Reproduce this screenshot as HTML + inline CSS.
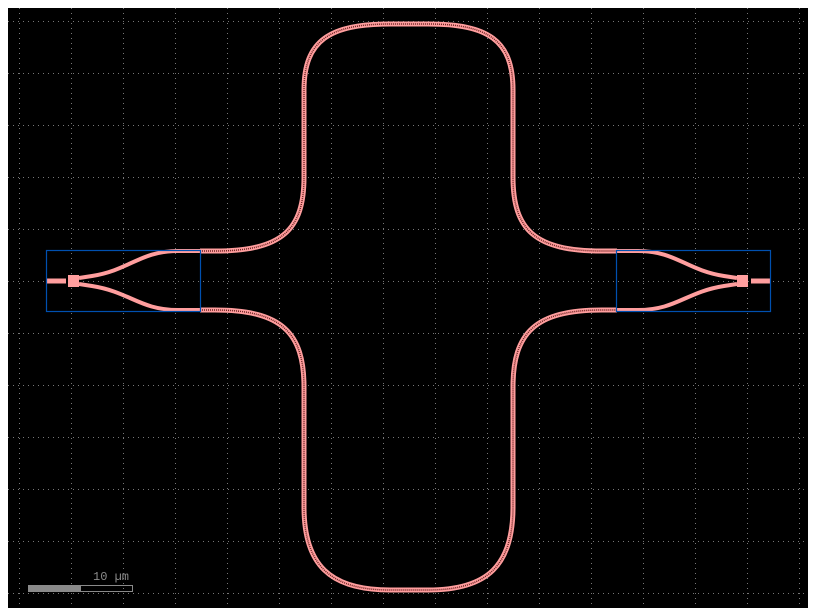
<!DOCTYPE html>
<html><head><meta charset="utf-8"><style>
html,body{margin:0;padding:0;background:#fff;width:816px;height:616px;overflow:hidden}
svg{display:block}
text{font-family:"Liberation Mono",monospace}
</style></head><body>
<svg width="816" height="616" viewBox="0 0 816 616">
<defs>
<pattern id="chk" width="2" height="2" patternUnits="userSpaceOnUse">
<rect width="2" height="2" fill="#ff9e9e"/><rect width="1" height="1" fill="#3a1010"/><rect x="1" y="1" width="1" height="1" fill="#3a1010"/>
</pattern>
</defs>
<rect x="8" y="8" width="800" height="600" fill="#000"/>
<g id="grid"></g>
<g fill="none" stroke-linejoin="round">
<path stroke="#ff9e9e" stroke-width="5" d="M200 251 L215 251 C282 251 304 230 304 177 L304 90 C304 40 330 24 390 24 L428 24 C488 24 513 40 513 90 L513 177 C513 230 535 251 602 251 L617 251"/>
<path stroke="#6a2020" stroke-width="1.5" stroke-dasharray="1 1" d="M200 251 L215 251 C282 251 304 230 304 177 L304 90 C304 40 330 24 390 24 L428 24 C488 24 513 40 513 90 L513 177 C513 230 535 251 602 251 L617 251"/>
<path stroke="#ff9e9e" stroke-width="5" d="M200 310 L215 310 C282 310 304 333 304 387 L304 507 C304 565 330 590 390 590 L428 590 C488 590 513 565 513 507 L513 387 C513 333 535 310 602 310 L617 310"/>
<path stroke="#6a2020" stroke-width="1.5" stroke-dasharray="1 1" d="M200 310 L215 310 C282 310 304 333 304 387 L304 507 C304 565 330 590 390 590 L428 590 C488 590 513 565 513 507 L513 387 C513 333 535 310 602 310 L617 310"/>
<g>
<path stroke="#ff9e9e" stroke-width="5" d="M47 281 L66 281"/>
<rect x="68" y="275" width="11" height="12" fill="#ff9e9e"/>
<path stroke="#ff9e9e" stroke-width="4" d="M79 278 L92 276 C130 270 140 251 178 251 L200 251"/>
<path stroke="#ff9e9e" stroke-width="4" d="M79 284 L92 286 C130 292 140 310 178 310 L200 310"/>
</g>
<g>
<path stroke="#ff9e9e" stroke-width="5" d="M770 281 L751 281"/>
<rect x="737" y="275" width="11" height="12" fill="#ff9e9e"/>
<path stroke="#ff9e9e" stroke-width="4" d="M737 278 L724 276 C686 270 676 251 638 251 L617 251"/>
<path stroke="#ff9e9e" stroke-width="4" d="M737 284 L724 286 C686 292 676 310 638 310 L617 310"/>
</g>
</g>
<rect x="46.5" y="250.5" width="154" height="61" fill="none" stroke="#0050b0" stroke-width="1.2"/>
<rect x="616.5" y="250.5" width="154" height="61" fill="none" stroke="#0050b0" stroke-width="1.2"/>
<g>
<rect x="28.5" y="585.5" width="104" height="6" fill="none" stroke="#8a8a8a" stroke-width="1"/>
<rect x="28" y="585" width="53" height="7" fill="#8a8a8a"/>
<text x="93" y="580" font-size="12" fill="#8a8a8a">10 µm</text>
</g>
</svg>
<script>
const gridXs=[19,71,123,175,227,279,331,383,435,487,539,591,643,695,747,799];
const gridYs=[21,73,125,177,229,281,333,385,437,489,541,593];
const g=document.getElementById('grid');
const NS='http://www.w3.org/2000/svg';
gridXs.forEach(x=>{const l=document.createElementNS(NS,'line');
l.setAttribute('x1',x+0.5);l.setAttribute('x2',x+0.5);l.setAttribute('y1',8);l.setAttribute('y2',608);
l.setAttribute('stroke','#777');l.setAttribute('stroke-dasharray','1 4');


g.appendChild(l);});
gridYs.forEach(y=>{const l=document.createElementNS(NS,'line');
l.setAttribute('y1',y+0.5);l.setAttribute('y2',y+0.5);l.setAttribute('x1',8);l.setAttribute('x2',808);
l.setAttribute('stroke','#777');l.setAttribute('stroke-dasharray','1 4');


g.appendChild(l);});
</script>
</body></html>
